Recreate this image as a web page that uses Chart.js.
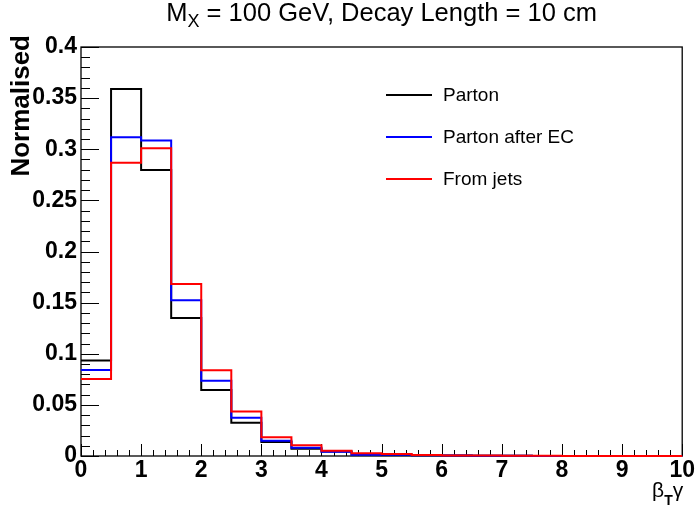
<!DOCTYPE html>
<html><head><meta charset="utf-8">
<script src="https://cdn.jsdelivr.net/npm/chart.js@4.4.0/dist/chart.umd.min.js"></script>
<style>html,body{margin:0;padding:0;background:#fff;}canvas{display:block;}</style>
</head><body>
<canvas id="c" width="696" height="510"></canvas>
<script>
// ---- data ----
const binEdges = [0,0.5,1,1.5,2,2.5,3,3.5,4,4.5,5,5.5,6,6.5,7,7.5,8,8.5,9,9.5];
const binWidth = 0.5;
const parton        = [0.0933,0.3590,0.2798,0.1350,0.0646,0.0326,0.0137,0.0071,0.0045,0.0015,0.0012,0.0008,0.0005,0.0003,0.0002,0.0001,0.0001,0,0,0];
const partonAfterEC = [0.0841,0.3118,0.3085,0.1523,0.0736,0.0375,0.0150,0.0080,0.0042,0.0012,0.0012,0.0007,0.0004,0.0003,0.0002,0.0001,0.0001,0,0,0];
const fromJets      = [0.0753,0.2867,0.3010,0.1683,0.0838,0.0434,0.0183,0.0106,0.0052,0.0026,0.0020,0.0010,0.0006,0.0004,0.0003,0.0002,0.0001,0.0001,0,0];
const seriesNames = ['Parton','Parton after EC','From jets'];
const seriesColors = ['#000000','#0000ff','#ff0000'];
const xTickValues = [0,1,2,3,4,5,6,7,8,9,10];
const xTickLabels = ['0','1','2','3','4','5','6','7','8','9','10'];
const yTickValues = [0,0.05,0.1,0.15,0.2,0.25,0.3,0.35,0.4];
const yTickLabels = ['0','0.05','0.1','0.15','0.2','0.25','0.3','0.35','0.4'];
const titleMain = 'M', titleSub = 'X', titleRest = ' = 100 GeV, Decay Length = 10 cm';
const yTitle = 'Normalised';

function histPoints(vals){
  const pts = binEdges.map((x,i)=>({x:x, y:vals[i]}));
  pts.push({x: binEdges[binEdges.length-1]+binWidth, y: vals[vals.length-1]});
  return pts;
}
const allSeries = [parton, partonAfterEC, fromJets];

const FONT = '"Liberation Sans", Arial, Helvetica, sans-serif';

const rootStyle = {
  id: 'rootStyle',
  beforeDatasetsDraw(chart){
    const {ctx, chartArea:a, scales:{x, y}} = chart;
    ctx.save();
    ctx.strokeStyle = '#000';
    ctx.lineWidth = 1;
    for (let k = 0; k <= 40; k++){
      const v = y.min + k*(y.max-y.min)/40;
      const py = Math.round(y.getPixelForValue(v)) + 0.5;
      const len = (k % 5 === 0) ? 18 : 9;
      ctx.beginPath(); ctx.moveTo(a.left, py); ctx.lineTo(a.left+len, py); ctx.stroke();
    }
    for (let k = 0; k <= 50; k++){
      const v = x.min + k*(x.max-x.min)/50;
      const px = Math.round(x.getPixelForValue(v)) + 0.5;
      const len = (k % 5 === 0) ? 12 : 6;
      ctx.beginPath(); ctx.moveTo(px, a.bottom); ctx.lineTo(px, a.bottom-len); ctx.stroke();
    }
    ctx.lineWidth = 1.3;
    ctx.strokeRect(a.left, a.top, a.right-a.left, a.bottom-a.top);
    ctx.restore();
  },
  afterDraw(chart){
    const {ctx, chartArea:a} = chart;
    ctx.save();
    ctx.fillStyle = '#000';
    ctx.textBaseline = 'alphabetic';
    const fMain = '25.5px ' + FONT, fSub = '18px ' + FONT;
    ctx.font = fMain; const w1 = ctx.measureText(titleMain).width;
    const w3 = ctx.measureText(titleRest).width;
    ctx.font = fSub; const w2 = ctx.measureText(titleSub).width;
    const total = w1 + w2 + w3;
    let tx = (a.left + a.right)/2 - total/2;
    const tb = 21;
    ctx.font = fMain; ctx.textAlign = 'left';
    ctx.fillText(titleMain, tx, tb); tx += w1;
    ctx.font = fSub; ctx.fillText(titleSub, tx, tb+6); tx += w2;
    ctx.font = fMain; ctx.fillText(titleRest, tx, tb);

    ctx.save();
    ctx.translate(22, 35);
    ctx.rotate(-Math.PI/2);
    ctx.font = 'bold 26px ' + FONT;
    ctx.textAlign = 'right';
    ctx.textBaseline = 'middle';
    ctx.fillText(yTitle, 0, 0);
    ctx.restore();

    const fB = '21px ' + FONT, fT = 'bold 14px ' + FONT;
    ctx.font = fB; const wb = ctx.measureText('\u03B2').width, wg = ctx.measureText('\u03B3').width;
    ctx.font = fT; const wt = ctx.measureText('T').width;
    let xx = a.right - (wb + wt + wg) + 1;
    const xb = 497;
    ctx.textAlign = 'left'; ctx.textBaseline = 'alphabetic';
    ctx.font = fB; ctx.fillText('\u03B2', xx, xb); xx += wb;
    ctx.font = fT; ctx.fillText('T', xx, xb+8); xx += wt;
    ctx.font = fB; ctx.fillText('\u03B3', xx, xb);

    const ds = chart.data.datasets;
    const ly = [95, 137, 179];
    ctx.font = '19px ' + FONT;
    ctx.textBaseline = 'middle';
    ds.forEach((d, i) => {
      ctx.strokeStyle = d.borderColor; ctx.lineWidth = 2;
      ctx.beginPath(); ctx.moveTo(386, ly[i]); ctx.lineTo(432, ly[i]); ctx.stroke();
      ctx.fillStyle = '#000';
      ctx.fillText(d.label, 443, ly[i]+1);
    });
    ctx.restore();
  }
};

new Chart(document.getElementById('c'), {
  type: 'line',
  data: {
    datasets: allSeries.map((vals, i) => ({
      label: seriesNames[i],
      data: histPoints(vals),
      borderColor: seriesColors[i],
      backgroundColor: seriesColors[i],
      borderWidth: 2,
      pointRadius: 0,
      fill: false,
      stepped: 'before',
      clip: 3,
      order: 2 - i
    }))
  },
  options: {
    responsive: false,
    animation: false,
    events: [],
    layout: { autoPadding: false, padding: { left: 0, right: 11, top: 47, bottom: 0 } },
    plugins: { legend: { display: false }, tooltip: { enabled: false }, title: { display: false } },
    scales: {
      x: {
        type: 'linear', min: 0, max: 10,
        afterBuildTicks: s => { s.ticks = xTickValues.map(v => ({value: v})); },
        afterFit: s => { s.height = 54; },
        grid: { display: false, drawTicks: false },
        border: { display: false },
        ticks: { font: { family: FONT, size: 23, weight: 'bold' }, color: '#000', padding: 1, maxRotation: 0,
                 callback: (v) => xTickLabels[xTickValues.indexOf(v)] }
      },
      y: {
        type: 'linear', min: 0, max: 0.4,
        afterBuildTicks: s => { s.ticks = yTickValues.map(v => ({value: v})); },
        afterFit: s => { s.width = 81; },
        grid: { display: false, drawTicks: false },
        border: { display: false },
        ticks: { font: { family: FONT, size: 23, weight: 'bold' }, color: '#000', padding: 4,
                 callback: (v) => yTickLabels[yTickValues.indexOf(v)] }
      }
    }
  },
  plugins: [rootStyle]
});
</script>
</body></html>
